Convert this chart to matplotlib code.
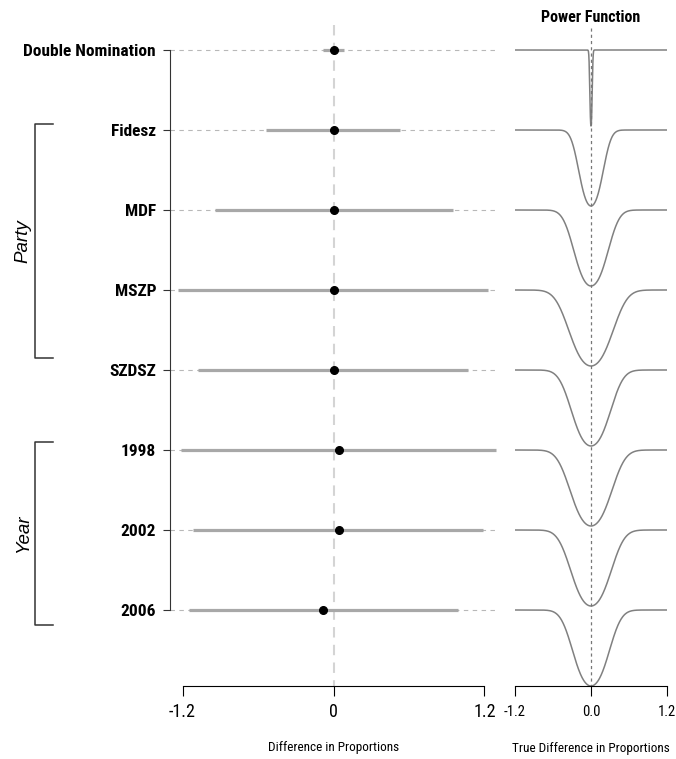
import math
import matplotlib
matplotlib.use("Agg")
import matplotlib.pyplot as plt
import numpy as np

plt.rcParams['font.family'] = ['Roboto Condensed', 'Liberation Sans', 'DejaVu Sans']

# estimates and intervals
labels = ["Double Nomination", "Fidesz", "MDF", "MSZP", "SZDSZ", "1998", "2002", "2006"]
est = [0.0, 0.0, 0.0, 0.0, 0.0, 0.04, 0.04, -0.08]
ci_low = [-0.08, -0.54, -0.94, -1.24, -1.08, -1.21, -1.12, -1.15]
ci_high = [0.08, 0.53, 0.95, 1.23, 1.07, 1.29, 1.19, 0.99]

# standard errors behind the power curves (right panel)
power_se = [0.01, 0.10, 0.14, 0.18, 0.16, 0.17, 0.165, 0.15]

rows = np.arange(len(labels))

W, H = 676, 759
fig = plt.figure(figsize=(W / 100, H / 100), dpi=100)

def frac(x0, x1, y_top, y_bot):
    return [x0 / W, 1 - y_bot / H, (x1 - x0) / W, (y_bot - y_top) / H]

ylim = (7.95, -0.375)

# ---- left panel
ax = fig.add_axes(frac(170, 497, 20, 686))
ax.set_xlim(-1.3, 1.3)
ax.set_ylim(*ylim)

ax.vlines(0, -0.31, 7.95, color='#d4d4d4', lw=1.5, linestyles=(0, (5, 3.5)), zorder=1)
for i in rows:
    ax.plot([-1.3, 1.3], [i, i], color='#b8b8b8', lw=0.8, ls=(0, (4, 4)), zorder=1)
ax.hlines(rows, ci_low, ci_high, color='#a8a8a8', lw=2.3, zorder=2)
ax.plot(est, rows, 'o', color='black', ms=5.5, zorder=3)

for s in ['top', 'right']:
    ax.spines[s].set_visible(False)
ax.spines['left'].set_bounds(0, 7)
ax.spines['left'].set_color('#333333')
ax.spines['bottom'].set_bounds(-1.2, 1.2)
ax.set_yticks(rows)
ax.set_yticklabels(labels, fontsize=12.5, fontweight='bold')
ax.tick_params(axis='y', length=5, pad=5, color='#333333')
ax.set_xticks([-1.2, 0, 1.2])
ax.set_xticklabels(['-1.2', '0', '1.2'], fontsize=13)
ax.tick_params(axis='x', length=7, pad=5)
ax.set_xlabel('Difference in Proportions', fontsize=9.5, labelpad=15)

# group brackets
bx, bx2 = -2.373, -2.23
for top, bot, name in [(0.925, 3.85, 'Party'), (4.9, 7.19, 'Year')]:
    ax.plot([bx2, bx, bx, bx2], [top, top, bot, bot], color='#333333', lw=1.1,
            clip_on=False)
    ax.text(-2.466, (top + bot) / 2, name, rotation=90, ha='center', va='center',
            fontsize=13.5, style='italic', family=['Liberation Sans', 'DejaVu Sans'])

# ---- right panel: power functions
ax2 = fig.add_axes(frac(515, 667, 20, 686))
ax2.set_xlim(-1.2, 1.2)
ax2.set_ylim(*ylim)

z = 1.959964
Phi = np.vectorize(lambda v: 0.5 * (1 + math.erf(v / math.sqrt(2))))
delta = np.linspace(-1.2, 1.2, 481)
for i, se in zip(rows, power_se):
    power = Phi(-z - delta / se) + Phi(-z + delta / se)
    ax2.plot(delta, i + (1 - power), color='#808080', lw=1.1)

ax2.vlines(0, -0.28, 7.95, color='#777777', lw=0.9, linestyles=(0, (2.5, 2.5)))

for s in ['top', 'right', 'left']:
    ax2.spines[s].set_visible(False)
ax2.spines['bottom'].set_bounds(-1.2, 1.2)
ax2.set_yticks([])
ax2.set_xticks([-1.2, 0, 1.2])
ax2.set_xticklabels(['-1.2', '0.0', '1.2'], fontsize=10.5)
ax2.tick_params(axis='x', length=7, pad=7)
ax2.set_xlabel('True Difference in Proportions', fontsize=9.5, labelpad=16)

fig.text(591 / W, 1 - 17 / H, 'Power Function', ha='center', va='center',
         fontsize=11.5, fontweight='bold')

fig.savefig('out.png', dpi=100)
